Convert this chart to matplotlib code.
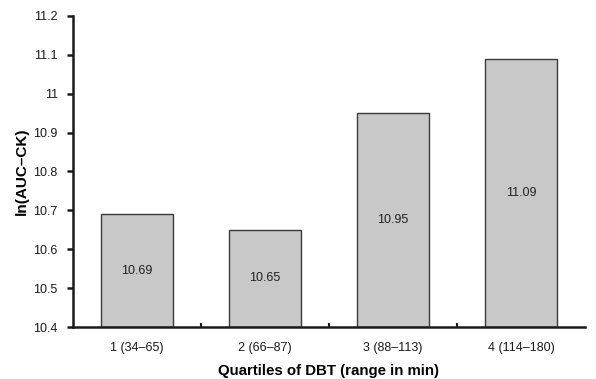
import matplotlib
matplotlib.use("Agg")
import matplotlib.pyplot as plt
from matplotlib.ticker import FixedLocator

categories = ["1 (34\u201365)", "2 (66\u201387)", "3 (88\u2013113)", "4 (114\u2013180)"]
values = [10.69, 10.65, 10.95, 11.09]
bar_labels = ["10.69", "10.65", "10.95", "11.09"]
yticks = [10.4, 10.5, 10.6, 10.7, 10.8, 10.9, 11.0, 11.1, 11.2]
ytick_labels = ["10.4", "10.5", "10.6", "10.7", "10.8", "10.9", "11", "11.1", "11.2"]

plt.rcParams['font.family'] = ['Liberation Sans', 'DejaVu Sans']

fig = plt.figure(figsize=(5.96, 3.79), dpi=100)
ax = fig.add_axes([0.1225, 0.137, 0.859, 0.821])

x = list(range(len(categories)))
base = 10.4
ax.bar(x, [v - base for v in values], bottom=base, width=0.56,
       color="#c8c8c8", edgecolor="#3a3a3a", linewidth=1.0, zorder=2)
for xi, v, lab in zip(x, values, bar_labels):
    ax.text(xi, (v + base) / 2, lab, ha="center", va="center",
            fontsize=9, color="#222222", zorder=3)

ax.set_xlim(-0.5, len(categories) - 0.5)
ax.set_ylim(10.4, 11.2)
ax.set_yticks(yticks)
ax.set_yticklabels(ytick_labels)
ax.set_xticks(x)
ax.set_xticklabels(categories)
ax.xaxis.set_minor_locator(FixedLocator([0.5, 1.5, 2.5]))

for side in ["top", "right"]:
    ax.spines[side].set_visible(False)
for side in ["left", "bottom"]:
    ax.spines[side].set_linewidth(1.8)
    ax.spines[side].set_color("#1a1a1a")

ax.tick_params(axis="y", direction="out", length=4, width=1.8, labelsize=9,
               colors="#1a1a1a", pad=7)
ax.tick_params(axis="x", which="major", length=0, labelsize=9, pad=11,
               colors="#1a1a1a")
ax.tick_params(axis="x", which="minor", direction="in", length=3, width=1.5,
               colors="#1a1a1a")

ax.set_ylabel("ln(AUC\u2013CK)", fontsize=11, fontweight="bold", labelpad=3)
ax.set_xlabel("Quartiles of DBT (range in min)", fontsize=10.8,
              fontweight="bold", labelpad=7)

fig.savefig("out.png", dpi=100)
